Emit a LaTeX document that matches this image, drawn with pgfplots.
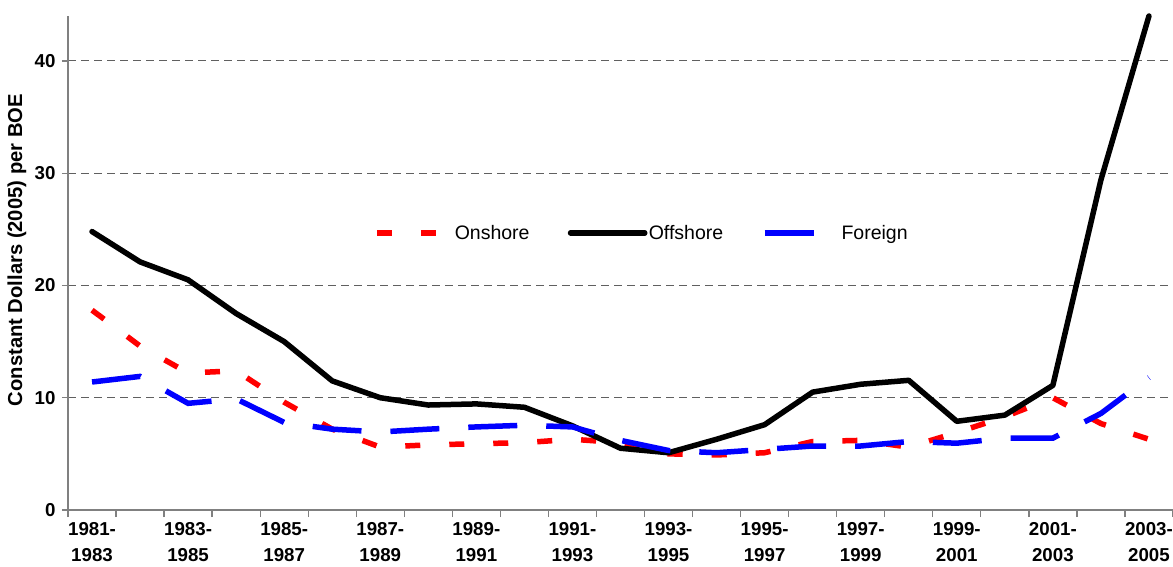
\documentclass[border=0pt]{standalone}
\usepackage{fontspec}
\setmainfont{Liberation Sans}
\usepackage{pgfplots}
\usepackage{pgfplotstable}
\pgfplotsset{compat=1.18}
\definecolor{axgray}{HTML}{808080}
\definecolor{gridgray}{HTML}{606060}
\pgfplotsset{
  onleg/.style={legend image code/.code={\path[draw=none,fill=none] (0bp,-3bp) rectangle (78bp,3bp); \draw[##1] (0bp,0bp) -- (59bp,0bp);}},
  offleg/.style={legend image code/.code={\path[draw=none,fill=none] (0bp,-3bp) rectangle (81bp,3bp); \draw[##1] (2.75bp,0bp) -- (77bp,0bp);}},
  foleg/.style={legend image code/.code={\path[draw=none,fill=none] (0bp,-3bp) rectangle (77bp,3bp); \draw[##1] (0bp,0bp) -- (50bp,0bp);}},
}
\pgfplotstableread{
x  on    off    fo
0  17.8  24.8   11.4
1  14.6  22.1   11.9
2  12.2  20.5   9.5
3  12.4  17.5   9.9
4  9.6   15.0   7.8
5  7.2   11.5   7.2
6  5.6   10.0   6.95
7  5.8   9.35   7.2
8  5.9   9.45   7.4
9  6.0   9.15   7.55
10 6.3   7.5    7.4
11 6.0   5.5    6.2
12 5.0   5.1    5.3
13 4.9   6.3    5.1
14 5.1   7.6    5.4
15 6.1   10.5   5.7
16 6.2   11.2   5.7
17 5.6   11.55  6.1
18 6.9   7.9    5.95
19 8.3   8.45   6.4
20 10.0  11.1   6.4
21 7.7   29.4   8.6
22 6.3   44.0   11.8
}\datatable
\begin{document}
\begin{tikzpicture}
\useasboundingbox (-68bp,-57bp) rectangle (1105bp,510bp);
\begin{axis}[
  at={(0,0)}, anchor=south west,
  scale only axis, width=1105bp, height=494bp,
  xmin=-0.5, xmax=22.5, ymin=0, ymax=44,
  axis x line*=bottom, axis y line*=left,
  axis line style={axgray, line width=1.3bp},
  clip=false,
  xtick={0,2,...,22},
  xticklabels={{1981-\\1983},{1983-\\1985},{1985-\\1987},{1987-\\1989},{1989-\\1991},{1991-\\1993},{1993-\\1995},{1995-\\1997},{1997-\\1999},{1999-\\2001},{2001-\\2003},{2003-\\2005}},
  minor xtick={-0.5,0.5,...,22.5},
  major x tick style={draw=none},
  minor x tick style={axgray, line width=1.3bp},
  minor tick length=7bp,
  major tick length=6bp,
  tick align=outside,
  ytick={0,10,20,30,40},
  ytick style={axgray, line width=1.3bp},
  ymajorgrids,
  grid style={gridgray, line width=1bp, dash pattern=on 7.5bp off 5.5bp},
  /pgf/number format/assume math mode=true,
  xticklabel style={font=\bfseries\fontsize{18.7bp}{25.7bp}\selectfont, align=center, inner ysep=0pt, yshift=-6.5bp},
  yticklabel style={font=\bfseries\fontsize{18.7bp}{22bp}\selectfont, xshift=-3bp},
  every axis y label/.style={at={(axis description cs:-0.0462,0.526)}, rotate=90, anchor=center, font=\bfseries\fontsize{20.2bp}{22bp}\selectfont},
  ylabel={Constant Dollars (2005) per BOE},
  legend columns=3,
  legend cell align=left,
  legend style={at={(axis cs:5.87,24.68)}, anchor=west, draw=none, fill=none, inner sep=0pt, outer sep=0pt,
    column sep=0pt, row sep=0pt, font=\fontsize{19.5bp}{22bp}\selectfont,
    nodes={inner xsep=0pt, inner ysep=1bp, text width=113bp, align=left}},
]
\addplot[red, line width=5.5bp, dash pattern=on 15bp off 29bp, onleg]
  table[x=x, y=on] {\datatable};
\addlegendentry{Onshore}
\addplot[black, line width=5.5bp, line cap=round, line join=round, offleg]
  table[x=x, y=off] {\datatable};
\addlegendentry{Offshore}
\addplot[blue, line width=5.5bp, dash pattern=on 49bp off 29bp, foleg]
  table[x=x, y=fo] {\datatable};
\addlegendentry{Foreign}
\end{axis}
\end{tikzpicture}
\end{document}
